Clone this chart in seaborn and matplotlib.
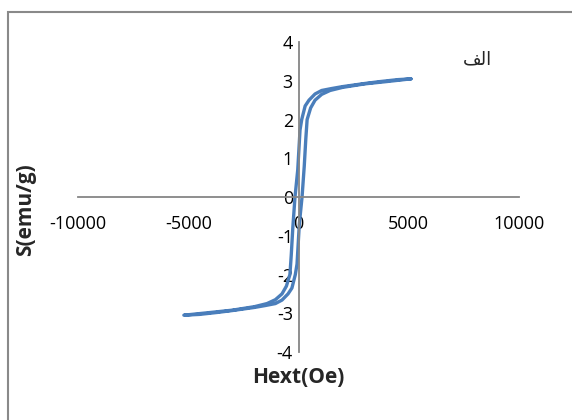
import pandas as pd
import matplotlib.pyplot as plt
import seaborn as sns
from matplotlib.patches import Rectangle

# hysteresis loop, field in Oe, magnetisation in emu/g
# branch 1: field going down from +5100 to -5200 (outer/upper branch)
h_down = [5100, 4500, 3700, 3000, 2000, 1500, 1050, 750, 475, 300, 145, 68,
          -36, -160, -260, -330, -390, -550, -750, -1050, -1430, -2000, -3000,
          -4000, -5200]
m_down = [3.05, 3.03, 2.98, 2.93, 2.85, 2.80, 2.75, 2.66, 2.5, 2.35, 2.0, 1.73,
          0.7, 0.0, -0.8, -1.5, -2.0, -2.3, -2.5, -2.65, -2.75, -2.83, -2.92,
          -2.98, -3.05]
# branch 2: field going back up (lower branch)
h_up = [-5200, -4500, -3700, -3000, -2000, -1500, -1050, -750, -475, -300, -145,
        -68, 36, 160, 260, 330, 390, 550, 750, 1050, 1430, 2000, 3000, 4000,
        5100]
m_up = [-3.05, -3.03, -2.98, -2.93, -2.85, -2.80, -2.75, -2.66, -2.5, -2.35,
        -2.0, -1.73, -0.7, 0.0, 0.8, 1.5, 2.0, 2.3, 2.5, 2.65, 2.75, 2.83, 2.92,
        2.98, 3.05]

x_ticks = [-10000, -5000, 0, 5000, 10000]
y_ticks = [-4, -3, -2, -1, 0, 1, 2, 3, 4]

df = pd.DataFrame({'H': h_down + h_up, 'M': m_down + m_up})

sns.set_style("white")
plt.rcParams['font.family'] = ['Open Sans', 'DejaVu Sans']

fig = plt.figure(figsize=(5.72, 4.2), dpi=100)
ax = fig.add_axes([0.1364, 0.1619, 0.771, 0.738])

sns.lineplot(data=df, x='H', y='M', sort=False, estimator=None,
             color='#4a7ebb', linewidth=2.4, ax=ax)

ax.set_xlim(-10000, 10000)
ax.set_ylim(-4, 4)
ax.set_xticks(x_ticks)
ax.set_yticks(y_ticks)
ax.set_xticklabels([str(v) for v in x_ticks])
ax.set_yticklabels([str(v) for v in y_ticks])

# axes crossing at the origin, excel style
ax.spines['left'].set_position(('data', 0))
ax.spines['bottom'].set_position(('data', 0))
ax.spines['top'].set_visible(False)
ax.spines['right'].set_visible(False)
for s in ['left', 'bottom']:
    ax.spines[s].set_color('#868686')
    ax.spines[s].set_linewidth(1.3)
ax.tick_params(axis='x', length=0, pad=13, labelsize=13, colors='black')
ax.tick_params(axis='y', length=0, pad=4, labelsize=13, colors='black')

ax.set_xlabel('Hext(Oe)', fontsize=15, fontweight='bold', va='center')
ax.xaxis.set_label_coords(0.499, -0.081)
ax.set_ylabel('S(emu/g)', fontsize=15, fontweight='bold', va='center')
ax.yaxis.set_label_coords(-0.118, 0.46)

# "الف" written with presentation forms so it shows joined, right-to-left
ax.text(0.906, 0.945, '\ufed2\ufedf\ufe8d', transform=ax.transAxes,
        fontsize=13, ha='center', va='center', family=['DejaVu Sans'])

# chart area border (only left and top are inside the picture)
fig.patches.append(Rectangle((8 / 572, -0.1), 1.2, 1.1 - 12 / 420,
                             transform=fig.transFigure, fill=False,
                             edgecolor='#898989', linewidth=1.5))

fig.savefig('out.png', dpi=100)
